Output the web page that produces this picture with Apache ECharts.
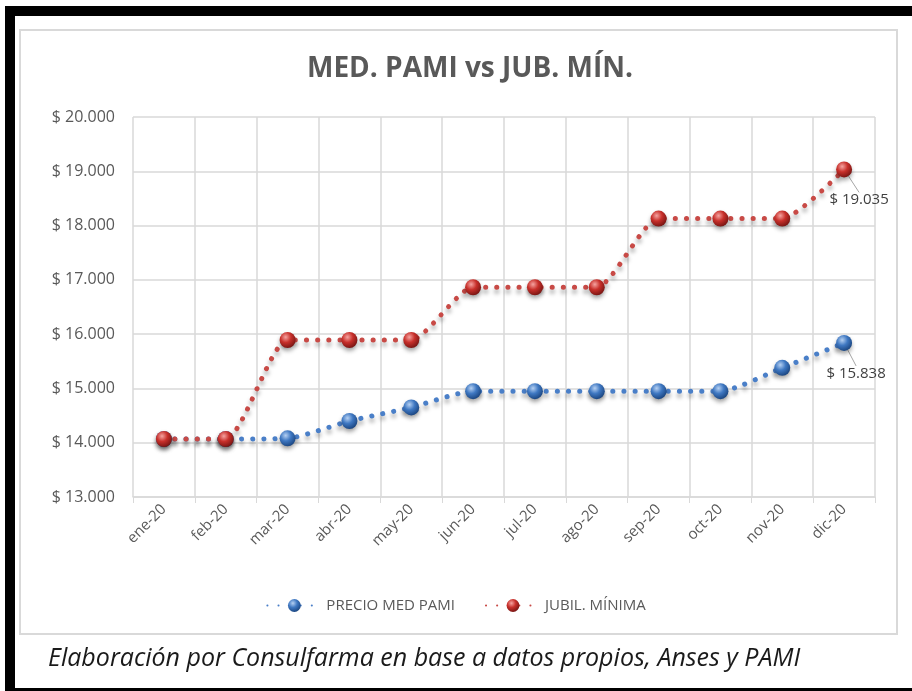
<!DOCTYPE html>
<html>
<head>
<meta charset="utf-8">
<script src="https://cdn.jsdelivr.net/npm/echarts@6/dist/echarts.min.js"></script>
<style>
  html, body { margin: 0; padding: 0; background: #fff; }
  #chart { width: 912px; height: 691px; }
</style>
</head>
<body>
<div id="chart"></div>
<script>
// meses 2020
const months = ['ene-20', 'feb-20', 'mar-20', 'abr-20', 'may-20', 'jun-20', 'jul-20', 'ago-20', 'sep-20', 'oct-20', 'nov-20', 'dic-20']
// precio medio PAMI
const pamiPrice = [14068, 14068, 14080, 14400, 14650, 14950, 14950, 14950, 14950, 14950, 15380, 15838]
// jubilacion minima
const minPension = [14068, 14068, 15892, 15892, 15892, 16864, 16864, 16864, 18129, 18129, 18129, 19035]
const yTicks = { min: 13000, max: 20000, step: 1000 }

const font = '"Open Sans", "Noto Sans", sans-serif'

// separador de miles con punto
function fmtPeso (v) {
  return '$ ' + String(Math.round(v)).replace(/\B(?=(\d{3})+(?!\d))/g, '.')
}

function sphere (light, mid, dark) {
  return {
    type: 'radial', x: 0.38, y: 0.32, r: 0.75,
    colorStops: [
      { offset: 0, color: light },
      { offset: 0.45, color: mid },
      { offset: 1, color: dark }
    ]
  }
}

// solo el ultimo punto lleva etiqueta
function withLastLabel (arr) {
  return arr.map((v, i) => {
    if (i !== arr.length - 1) return v
    return {
      value: v,
      label: { show: true, formatter: fmtPeso(v) },
      labelLine: { show: true, lineStyle: { color: '#a6a6a6', width: 1 } }
    }
  })
}

function lineSerie (name, data, lineColor, ball, dx, dy) {
  return {
    name: name,
    type: 'line',
    smooth: 0.2,
    data: withLastLabel(data),
    symbol: 'circle',
    symbolSize: 16,
    lineStyle: {
      color: lineColor,
      width: 5,
      type: [0.1, 11],
      cap: 'round',
      shadowColor: 'rgba(0,0,0,0.35)',
      shadowBlur: 4,
      shadowOffsetY: 4
    },
    itemStyle: {
      color: ball,
      borderWidth: 0,
      shadowColor: 'rgba(0,0,0,0.35)',
      shadowBlur: 4,
      shadowOffsetY: 3
    },
    label: {
      show: false,
      position: 'bottom',
      color: '#404040',
      fontSize: 15,
      fontFamily: font
    },
    labelLayout: { dx: dx, dy: dy },
    emphasis: { disabled: true }
  }
}

const chart = echarts.init(document.getElementById('chart'))
chart.setOption({
  animation: false,
  color: ['#3f78c2', '#c23b37'],
  title: {
    text: 'MED. PAMI vs JUB. MÍN.',
    left: 465,
    textAlign: 'center',
    top: 50,
    textStyle: { fontFamily: font, fontSize: 28, fontWeight: 'bold', color: '#595959' }
  },
  legend: {
    top: 593,
    left: 'center',
    itemWidth: 54,
    itemHeight: 16,
    itemGap: 30,
    textStyle: { fontFamily: font, fontSize: 15, color: '#595959' },
    data: ['PRECIO MED PAMI', 'JUBIL. MÍNIMA']
  },
  grid: { left: 133, right: 37, top: 117, bottom: 194 },
  xAxis: {
    type: 'category',
    data: months,
    boundaryGap: true,
    axisLine: { lineStyle: { color: '#d9d9d9', width: 1.5 } },
    axisTick: { show: true, length: 6, lineStyle: { color: '#d9d9d9' } },
    splitLine: { show: true, lineStyle: { color: '#d9d9d9', width: 1.5 } },
    axisLabel: { rotate: 45, fontFamily: font, fontSize: 15, color: '#595959', margin: 10 }
  },
  yAxis: {
    type: 'value',
    min: yTicks.min,
    max: yTicks.max,
    interval: yTicks.step,
    axisLine: { show: false },
    axisTick: { show: false },
    splitLine: { lineStyle: { color: '#d9d9d9', width: 1.5 } },
    axisLabel: { formatter: fmtPeso, fontFamily: font, fontSize: 16, color: '#595959', margin: 18 }
  },
  graphic: [
    { type: 'rect', shape: { x: 20, y: 30, width: 877, height: 604 }, style: { fill: 'none', stroke: '#d9d9d9', lineWidth: 2 }, z: -1 },
    { type: 'rect', shape: { x: 5, y: 6, width: 907, height: 10 }, style: { fill: '#000' } },
    { type: 'rect', shape: { x: 5, y: 6, width: 10, height: 685 }, style: { fill: '#000' } },
    { type: 'rect', shape: { x: 5, y: 688, width: 907, height: 3 }, style: { fill: '#000' } },
    {
      type: 'text', left: 48, top: 646,
      style: {
        text: 'Elaboración por Consulfarma en base a datos propios, Anses y PAMI',
        font: 'italic 25px "Open Sans", "Noto Sans", sans-serif',
        fill: '#1a1a1a'
      }
    }
  ],
  series: [
    lineSerie('PRECIO MED PAMI', pamiPrice, '#4a7fc8', sphere('#b5d0f2', '#3f78c2', '#163f78'), 12, 10),
    lineSerie('JUBIL. MÍNIMA', minPension, '#c84a46', sphere('#f5a3a0', '#c8302b', '#6e1210'), 15, 10)
  ]
})
</script>
</body>
</html>
